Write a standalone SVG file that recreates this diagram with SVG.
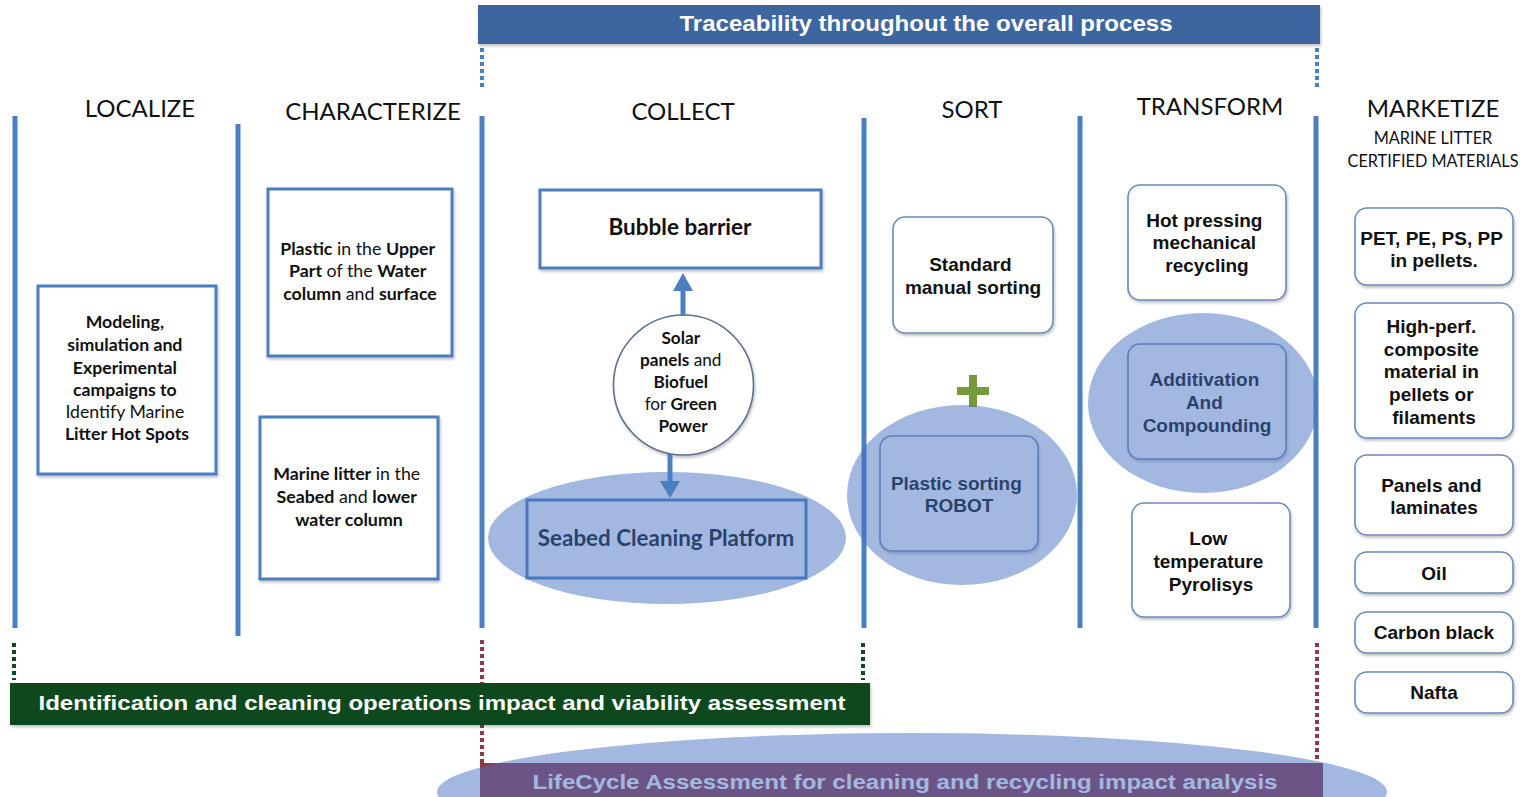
<svg xmlns="http://www.w3.org/2000/svg" width="1522" height="797" viewBox="0 0 1522 797">
  <style>
    .lato { font-family: Lato, "Liberation Sans", sans-serif; fill: #111; }
    .arial { font-family: "Liberation Sans", Arial, sans-serif; font-weight: bold; fill: #111; }
    .head { font-family: Lato, "Liberation Sans", sans-serif; font-size: 24px; fill: #111; }
    .b { font-weight: bold; }
    .n { font-weight: normal; }
    .col { stroke: #4a7fc1; stroke-width: 5; fill: none; }
    .sq { fill: #fff; stroke: #4a7fc1; stroke-width: 3; }
    .rd { fill: #fff; stroke: #6a8bba; stroke-width: 1.6; }
    .halo { fill: rgb(70,114,196); fill-opacity: 0.5; }
    .dotB { stroke: #4a7fc1; stroke-width: 4; stroke-dasharray: 4 3; fill: none; }
    .dotG { stroke: #0f4a1f; stroke-width: 4; stroke-dasharray: 4 3; fill: none; }
    .dotR { stroke: #8e3a48; stroke-width: 4; stroke-dasharray: 4 3; fill: none; }
    .bartxt { font-family: "Liberation Sans", Arial, sans-serif; font-weight: bold; fill: #fff; }
  </style>
  <defs>
    <filter id="shadow" x="-10%" y="-10%" width="125%" height="130%">
      <feDropShadow dx="1" dy="2" stdDeviation="1.5" flood-color="#000" flood-opacity="0.25"/>
    </filter>
  </defs>

  <rect width="1522" height="797" fill="#fff"/>

  <!-- process columns -->
  <g id="columns">
    <line class="col" x1="15" y1="116" x2="15" y2="628"/>
    <line class="col" x1="238" y1="124" x2="238" y2="636"/>
    <line class="col" x1="482" y1="116" x2="482" y2="628"/>
    <line class="col" x1="864" y1="118" x2="864" y2="628"/>
    <line class="col" x1="1080" y1="116" x2="1080" y2="628"/>
    <line class="col" x1="1316" y1="116" x2="1316" y2="628"/>
  </g>

  <!-- dotted guides -->
  <g id="guides">
    <line class="dotB" x1="482" y1="48" x2="482" y2="88"/>
    <line class="dotB" x1="1317" y1="48" x2="1317" y2="88"/>
    <line class="dotG" x1="14" y1="643" x2="14" y2="680"/>
    <line class="dotG" x1="863" y1="643" x2="863" y2="680"/>
    <line class="dotR" x1="482" y1="640" x2="482" y2="764"/>
    <line class="dotR" x1="1317" y1="643" x2="1317" y2="760"/>
  </g>

  <!-- top banner -->
  <g id="traceability">
    <rect x="478" y="5" width="842" height="39" fill="#3c66a0" filter="url(#shadow)"/>
    <text class="bartxt" x="926" y="31" font-size="22" text-anchor="middle" textLength="493" lengthAdjust="spacingAndGlyphs">Traceability throughout the overall process</text>
  </g>

  <!-- column headings -->
  <g id="headings">
    <text class="head" x="140" y="117" text-anchor="middle">LOCALIZE</text>
    <text class="head" x="373" y="120" text-anchor="middle">CHARACTERIZE</text>
    <text class="head" x="683" y="120" text-anchor="middle">COLLECT</text>
    <text class="head" x="972" y="118" text-anchor="middle">SORT</text>
    <text class="head" x="1210" y="115" text-anchor="middle">TRANSFORM</text>
    <text class="head" x="1433" y="117" text-anchor="middle">MARKETIZE</text>
    <text class="lato" x="1433" y="144" font-size="16.3" text-anchor="middle">MARINE LITTER</text>
    <text class="lato" x="1433" y="167" font-size="16.3" text-anchor="middle">CERTIFIED MATERIALS</text>
  </g>

  <!-- LOCALIZE -->
  <g id="modeling">
    <rect class="sq" x="38" y="286" width="178" height="188" filter="url(#shadow)"/>
    <text class="lato b" font-size="17.7" text-anchor="middle">
      <tspan x="127" y="328">Modeling,</tspan>
      <tspan x="127" y="351">simulation and</tspan>
      <tspan x="127" y="374">Experimental</tspan>
      <tspan x="127" y="396">campaigns to</tspan>
      <tspan x="127" y="418" class="n">Identify Marine</tspan>
      <tspan x="127" y="440">Litter Hot Spots</tspan>
    </text>
  </g>

  <!-- CHARACTERIZE -->
  <g id="upper-water">
    <rect class="sq" x="268" y="189" width="184" height="167" filter="url(#shadow)"/>
    <text class="lato" font-size="17.8" text-anchor="middle">
      <tspan x="360" y="255"><tspan class="b">Plastic</tspan> in the <tspan class="b">Upper</tspan></tspan>
      <tspan x="360" y="277"><tspan class="b">Part</tspan> of the <tspan class="b">Water</tspan></tspan>
      <tspan x="360" y="300"><tspan class="b">column</tspan> and <tspan class="b">surface</tspan></tspan>
    </text>
  </g>
  <g id="seabed-litter">
    <rect class="sq" x="260" y="417" width="178" height="162" filter="url(#shadow)"/>
    <text class="lato" font-size="17.8" text-anchor="middle">
      <tspan x="349" y="480"><tspan class="b">Marine litter</tspan> in the</tspan>
      <tspan x="349" y="503"><tspan class="b">Seabed</tspan> and <tspan class="b">lower</tspan></tspan>
      <tspan x="349" y="526" class="b">water column</tspan>
    </text>
  </g>

  <!-- COLLECT -->
  <g id="bubble-barrier">
    <rect class="sq" x="540" y="190" width="281" height="78" filter="url(#shadow)"/>
    <text class="lato b" x="680" y="235" font-size="22.5" text-anchor="middle">Bubble barrier</text>
  </g>
  <g id="green-power">
    <circle cx="683.5" cy="385" r="70" fill="#fff" stroke="#5b6f90" stroke-width="1.6" filter="url(#shadow)"/>
    <text class="lato" font-size="17.2" text-anchor="middle">
      <tspan x="683" y="344" class="b">Solar</tspan>
      <tspan x="683" y="366"><tspan class="b">panels</tspan> and</tspan>
      <tspan x="683" y="388" class="b">Biofuel</tspan>
      <tspan x="683" y="410">for <tspan class="b">Green</tspan></tspan>
      <tspan x="683" y="432" class="b">Power</tspan>
    </text>
  </g>
  <g id="seabed-platform">
    <rect class="sq" x="527" y="500" width="279" height="78"/>
    <text class="lato b" x="666" y="546" font-size="22.4" text-anchor="middle">Seabed Cleaning Platform</text>
    <ellipse class="halo" cx="667" cy="538" rx="179" ry="66"/>
  </g>

  <!-- SORT -->
  <g id="manual-sorting">
    <rect class="rd" x="893" y="217" width="160" height="116" rx="12" filter="url(#shadow)"/>
    <text class="arial" font-size="19" text-anchor="middle">
      <tspan x="973" y="271">Standard</tspan>
      <tspan x="973" y="294">manual sorting</tspan>
    </text>
  </g>
  <g id="plus">
    <path d="M957,391 H989 M973,375 V407" stroke="#749a3a" stroke-width="8" fill="none"/>
  </g>
  <g id="sorting-robot">
    <rect class="rd" x="880" y="436" width="158" height="115" rx="12" filter="url(#shadow)"/>
    <text class="arial" font-size="19" text-anchor="middle">
      <tspan x="959" y="490">Plastic sorting</tspan>
      <tspan x="959" y="512">ROBOT</tspan>
    </text>
    <ellipse class="halo" cx="962" cy="495" rx="115" ry="90"/>
  </g>

  <!-- TRANSFORM -->
  <g id="hot-pressing">
    <rect class="rd" x="1128" y="185" width="158" height="115" rx="12" filter="url(#shadow)"/>
    <text class="arial" font-size="19" text-anchor="middle">
      <tspan x="1207" y="227">Hot pressing</tspan>
      <tspan x="1207" y="249">mechanical</tspan>
      <tspan x="1207" y="272">recycling</tspan>
    </text>
  </g>
  <g id="additivation">
    <rect class="rd" x="1128" y="344" width="158" height="115" rx="12" filter="url(#shadow)"/>
    <text class="arial" font-size="19" text-anchor="middle">
      <tspan x="1207" y="386">Additivation</tspan>
      <tspan x="1207" y="409">And</tspan>
      <tspan x="1207" y="432">Compounding</tspan>
    </text>
    <ellipse class="halo" cx="1203" cy="403" rx="115" ry="90"/>
  </g>
  <g id="pyrolysis">
    <rect class="rd" x="1132" y="503" width="158" height="114" rx="12" filter="url(#shadow)"/>
    <text class="arial" font-size="19" text-anchor="middle">
      <tspan x="1211" y="545">Low</tspan>
      <tspan x="1211" y="568">temperature</tspan>
      <tspan x="1211" y="591">Pyrolisys</tspan>
    </text>
  </g>

  <!-- MARKETIZE -->
  <g id="pellets">
    <rect class="rd" x="1355" y="208" width="158" height="77" rx="12" filter="url(#shadow)"/>
    <text class="arial" font-size="19" text-anchor="middle">
      <tspan x="1434" y="245">PET, PE, PS, PP</tspan>
      <tspan x="1434" y="267">in pellets.</tspan>
    </text>
  </g>
  <g id="composite">
    <rect class="rd" x="1355" y="303" width="158" height="135" rx="12" filter="url(#shadow)"/>
    <text class="arial" font-size="19" text-anchor="middle">
      <tspan x="1434" y="333">High-perf.</tspan>
      <tspan x="1434" y="356">composite</tspan>
      <tspan x="1434" y="378">material in</tspan>
      <tspan x="1434" y="401">pellets or</tspan>
      <tspan x="1434" y="424">filaments</tspan>
    </text>
  </g>
  <g id="panels">
    <rect class="rd" x="1355" y="455" width="158" height="80" rx="12" filter="url(#shadow)"/>
    <text class="arial" font-size="19" text-anchor="middle">
      <tspan x="1434" y="492">Panels and</tspan>
      <tspan x="1434" y="514">laminates</tspan>
    </text>
  </g>
  <g id="oil">
    <rect class="rd" x="1355" y="552" width="158" height="41" rx="12" filter="url(#shadow)"/>
    <text class="arial" x="1434" y="580" font-size="19" text-anchor="middle">Oil</text>
  </g>
  <g id="carbon-black">
    <rect class="rd" x="1355" y="612" width="158" height="41" rx="12" filter="url(#shadow)"/>
    <text class="arial" x="1434" y="639" font-size="19" text-anchor="middle">Carbon black</text>
  </g>
  <g id="nafta">
    <rect class="rd" x="1355" y="672" width="158" height="41" rx="12" filter="url(#shadow)"/>
    <text class="arial" x="1434" y="699" font-size="19" text-anchor="middle">Nafta</text>
  </g>

  <!-- energy supply arrows -->
  <g id="connectors">
    <path d="M683,316 V290" stroke="#4a7fc1" stroke-width="5" fill="none"/>
    <path d="M673,291 L683,273 L693,291 Z" fill="#4a7fc1"/>
    <path d="M670,454 V482" stroke="#4a7fc1" stroke-width="5" fill="none"/>
    <path d="M660,481 L670,498 L680,481 Z" fill="#4a7fc1"/>
  </g>

  <!-- assessment bars -->
  <g id="impact-assessment">
    <rect x="10" y="683" width="860" height="42" fill="#0f4a1f" filter="url(#shadow)"/>
    <text class="bartxt" x="442" y="710" font-size="21" text-anchor="middle" textLength="807" lengthAdjust="spacingAndGlyphs">Identification and cleaning operations impact and viability assessment</text>
  </g>
  <g id="lifecycle-assessment">
    <rect x="480" y="763" width="843" height="40" fill="#903848"/>
    <text class="bartxt" x="905" y="789" font-size="21" text-anchor="middle" textLength="745" lengthAdjust="spacingAndGlyphs">LifeCycle Assessment for cleaning and recycling impact analysis</text>
    <ellipse class="halo" cx="912" cy="792" rx="475" ry="59"/>
  </g>
</svg>
